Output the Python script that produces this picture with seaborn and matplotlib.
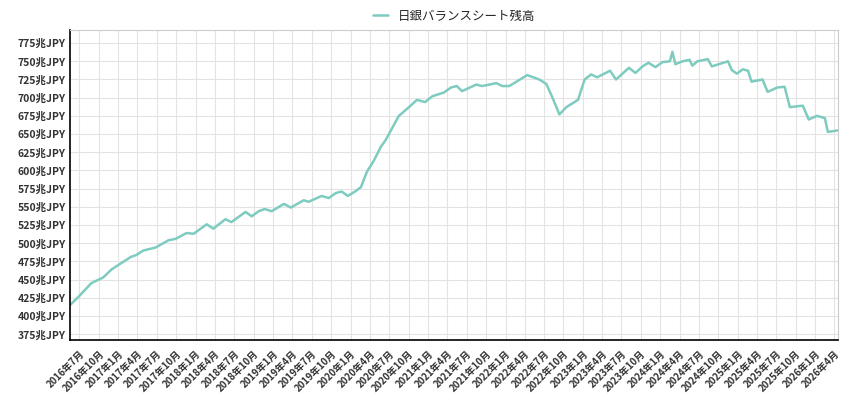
import pandas as pd
import matplotlib.pyplot as plt
import matplotlib.dates as mdates
import seaborn as sns

# 日銀バランスシート残高 (兆円)
dates = [
    "2016-05-18", "2016-06-26", "2016-08-26", "2016-10-22", "2016-11-30", "2017-02-28",
    "2017-03-28", "2017-04-29", "2017-06-25", "2017-08-25", "2017-09-28", "2017-11-19",
    "2017-12-22", "2018-02-22", "2018-03-25", "2018-05-21", "2018-06-18", "2018-07-31",
    "2018-08-24", "2018-09-22", "2018-10-25", "2018-11-22", "2018-12-25", "2019-02-21",
    "2019-03-25", "2019-05-25", "2019-06-18", "2019-08-18", "2019-09-20", "2019-10-24",
    "2019-11-20", "2019-12-19", "2020-01-22", "2020-02-19", "2020-03-18", "2020-04-21",
    "2020-05-22", "2020-06-15", "2020-08-16", "2020-10-03", "2020-11-09", "2020-12-18",
    "2021-01-21", "2021-03-16", "2021-04-19", "2021-05-16", "2021-06-10", "2021-08-16",
    "2021-09-13", "2021-11-19", "2021-12-16", "2022-01-19", "2022-04-13", "2022-06-09",
    "2022-07-12", "2022-08-09", "2022-09-12", "2022-10-15", "2022-12-09", "2023-01-09",
    "2023-02-09", "2023-03-09", "2023-05-09", "2023-06-06", "2023-08-06", "2023-09-06",
    "2023-10-09", "2023-11-06", "2023-12-09", "2024-01-12", "2024-02-15", "2024-02-27",
    "2024-03-12", "2024-04-15", "2024-05-18", "2024-05-31", "2024-06-24", "2024-08-12",
    "2024-08-31", "2024-11-15", "2024-12-03", "2024-12-27", "2025-01-24", "2025-02-18",
    "2025-03-06", "2025-04-27", "2025-05-21", "2025-07-06", "2025-08-09", "2025-09-03",
    "2025-11-03", "2025-12-01", "2026-01-09", "2026-02-15", "2026-03-01", "2026-04-18",
]
values = [
    415, 426, 445, 453, 464, 481,
    484, 490, 494, 504, 506, 514,
    513, 526, 520, 533, 529, 538,
    543, 537, 544, 547, 544, 554,
    549, 559, 557, 565, 562, 569,
    571, 565, 571, 577, 598, 614,
    632, 642, 675, 687, 697, 694,
    702, 707, 714, 716, 709, 718,
    716, 720, 716, 716, 731, 725,
    719, 701, 677, 687, 697, 725,
    732, 728, 737, 725, 741, 734,
    743, 748, 742, 749, 750, 763,
    746, 750, 752, 744, 750, 753,
    743, 750, 738, 733, 739, 737,
    722, 725, 708, 714, 715, 687,
    689, 670, 675, 672, 653, 655,
]
y_ticks = list(range(375, 776, 25))

df = pd.DataFrame({"date": pd.to_datetime(dates), "value": values})

sns.set_style("white")
plt.rcParams['font.family'] = ['Noto Sans CJK JP', 'DejaVu Sans']

fig = plt.figure(figsize=(8.5, 4), dpi=100)
ax = fig.add_axes([70 / 850, 60 / 400, 768 / 850, 310 / 400])

sns.lineplot(data=df, x="date", y="value", ax=ax, color="#7ecbc0", linewidth=1.8,
             label="日銀バランスシート残高")

ax.set_xlim(pd.Timestamp("2016-05-18"), pd.Timestamp("2026-04-18"))
ax.set_ylim(367, 793)
ax.set_yticks(y_ticks)
ax.set_yticklabels([f"{v}兆JPY" for v in y_ticks], fontsize=7.5, fontweight="bold", color="#333333")

xt = pd.date_range("2016-07-01", "2026-04-01", freq="3MS")
ax.set_xticks(xt)
ax.set_xticklabels([f"{d.year}年{d.month}月" for d in xt], rotation=45, ha="right",
                   rotation_mode="anchor", fontsize=7, fontweight="bold", color="#333333")
ax.tick_params(axis="x", length=4, color="#c8d4e6", pad=2)
ax.tick_params(axis="y", length=0, pad=3)

ax.grid(True, color="#e3e3e3", linewidth=0.8)
ax.set_xlabel("")
ax.set_ylabel("")
for side in ["top", "right"]:
    ax.spines[side].set_color("#cccccc")
for side in ["left", "bottom"]:
    ax.spines[side].set_color("black")
    ax.spines[side].set_linewidth(1.2)

ax.legend(loc="lower center", bbox_to_anchor=(0.5, 1.0), frameon=False, fontsize=9,
          handlelength=1.2, borderaxespad=0.2)

fig.savefig("out.png")
